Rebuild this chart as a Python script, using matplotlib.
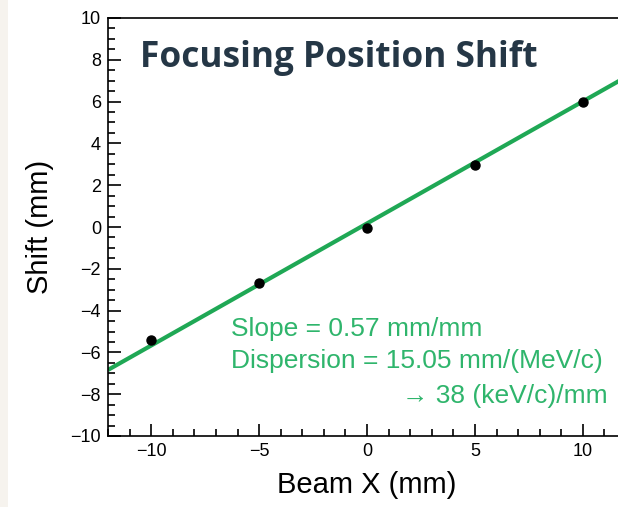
import matplotlib.pyplot as plt
import numpy as np
from matplotlib.patches import Rectangle
from matplotlib.ticker import MultipleLocator

beam_x = [-10, -5, 0, 5, 10]
shift = [-5.4, -2.7, -0.05, 2.95, 6.0]

# fitted line (as drawn)
fit_slope = 0.584
fit_intercept = 0.17

title_text = 'Focusing Position Shift'
fit_lines = ['Slope = 0.57 mm/mm',
             'Dispersion = 15.05 mm/(MeV/c)',
             '\u2192 38 (keV/c)/mm']

green_line = '#1fa855'
green_text = '#2fb56c'
navy = '#253746'

plt.rcParams['font.family'] = ['Liberation Sans', 'DejaVu Sans']

fig = plt.figure(figsize=(6.18, 5.07), dpi=100)
fig.patch.set_facecolor('white')
# beige strip on the left edge
fig.patches.append(Rectangle((0, 0), 8 / 618, 1, transform=fig.transFigure,
                             facecolor='#f6f3ee', edgecolor='none', zorder=-1))

ax = fig.add_axes([108 / 618, 71 / 507, 518 / 618, 418 / 507])
ax.set_xlim(-12, 12)
ax.set_ylim(-10, 10)

xs = np.array([-12, 12])
ax.plot(xs, fit_slope * xs + fit_intercept, color=green_line, lw=3, zorder=2,
        solid_capstyle='butt')
ax.plot(beam_x, shift, 'o', color='black', markersize=6.5, zorder=3)

ax.xaxis.set_major_locator(MultipleLocator(5))
ax.xaxis.set_minor_locator(MultipleLocator(1))
ax.yaxis.set_major_locator(MultipleLocator(2))
ax.yaxis.set_minor_locator(MultipleLocator(0.5))
ax.tick_params(which='both', direction='in', top=False, right=False, width=1.2)
ax.tick_params(which='major', length=9, labelsize=13, pad=5)
ax.tick_params(which='minor', length=5)
for s in ax.spines.values():
    s.set_linewidth(1.2)

ax.set_xlabel('Beam X (mm)', fontsize=21, labelpad=8)
ax.set_ylabel('Shift (mm)', fontsize=21, labelpad=12)

fig.text(140 / 618, 1 - 58 / 507, title_text,
         fontsize=25.4, fontweight='bold', color=navy, family=['Open Sans', 'DejaVu Sans'],
         ha='left', va='center')

fig.text(231 / 618, 1 - 329 / 507, fit_lines[0], fontsize=19, color=green_text,
         ha='left', va='center')
fig.text(231 / 618, 1 - 361 / 507, fit_lines[1], fontsize=19, color=green_text,
         ha='left', va='center')
fig.text(608 / 618, 1 - 396 / 507, fit_lines[2], fontsize=19, color=green_text,
         ha='right', va='center')

fig.savefig('out.png', dpi=100)
